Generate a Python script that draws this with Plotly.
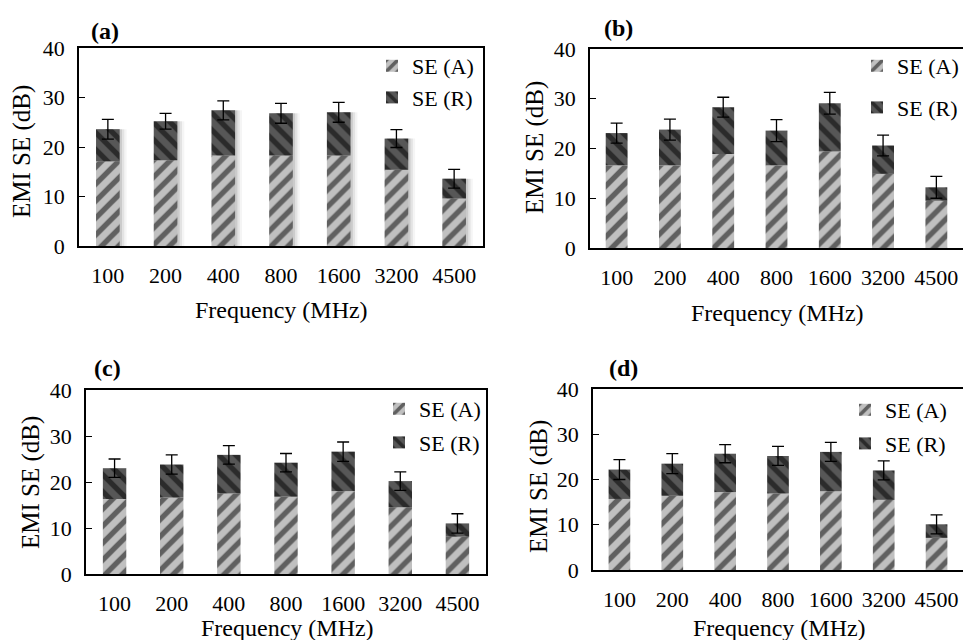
import plotly.graph_objects as go

freq = ["100", "200", "400", "800", "1600", "3200", "4500"]

# panel (a)
a_A = [17.1, 17.3, 18.3, 18.3, 18.3, 15.4, 9.6]
a_tot = [23.6, 25.2, 27.4, 26.8, 27.0, 21.7, 13.6]
a_err = [2.0, 1.6, 1.9, 2.0, 2.0, 1.8, 1.9]
# panel (b)
b_A = [16.6, 16.6, 18.9, 16.6, 19.4, 14.9, 9.5]
b_tot = [23.1, 23.8, 28.3, 23.6, 29.1, 20.6, 12.2]
b_err = [2.0, 2.1, 2.0, 2.2, 2.2, 2.1, 2.2]
# panel (c)
c_A = [16.3, 16.6, 17.5, 16.8, 18.0, 14.5, 8.1]
c_tot = [23.0, 23.8, 25.9, 24.2, 26.6, 20.2, 11.0]
c_err = [2.0, 2.1, 2.0, 2.0, 2.1, 2.0, 2.1]
# panel (d)
d_A = [15.7, 16.4, 17.2, 16.9, 17.4, 15.5, 7.1]
d_tot = [22.2, 23.5, 25.7, 25.2, 26.1, 22.0, 10.1]
d_err = [2.2, 2.2, 2.0, 2.1, 2.1, 2.1, 2.1]

panel_labels = ["(a)", "(b)", "(c)", "(d)"]
series_names = ["SE (A)", "SE (R)"]
x_title = "Frequency (MHz)"
y_title = "EMI SE (dB)"
y_ticks = [0, 10, 20, 30, 40]

W, H = 963, 640
FONT = "Liberation Serif, Times New Roman, serif"
LIGHT = "#c0c0c0"
DARK = "#575757"

# layout geometry (pixels): left, right, top, bottom
geom = [
    (79, 483, 48, 246),
    (590, 963, 49, 248),
    (86, 486, 390, 574),
    (593, 963, 389, 570),
]
legend_pos = [(372, 45), (857, 45), (379, 388), (845, 389)]
legend_gap = [0, 10, 2, 2]
label_pos = [(105, 31), (618, 28), (107, 368), (623, 368)]
xtitle_pos = [(281, 310), (777, 313), (287, 628), (779, 628)]
ytitle_pos = [(22, 152), (535, 148), (31, 483), (539, 487)]

panels = [(a_A, a_tot, a_err), (b_A, b_tot, b_err), (c_A, c_tot, c_err), (d_A, d_tot, d_err)]

fig = go.Figure()
BW = 0.41
for i, (A, tot, err) in enumerate(panels):
    sfx = "" if i == 0 else str(i + 1)
    xa, ya = "x" + sfx, "y" + sfx
    leg = "legend" + sfx
    R = [t - a for t, a in zip(tot, A)]
    if i == 0:
        # soft shadow to the right of bars in panel (a)
        for k, alpha in enumerate([0.10, 0.07, 0.04]):
            fig.add_trace(go.Bar(
                x=freq, y=tot, base=[0] * len(freq), xaxis=xa, yaxis=ya,
                width=BW, offset=-BW / 2 + 0.04 * (k + 1), legend=leg,
                marker=dict(color=f"rgba(0,0,0,{alpha})", line=dict(width=0)),
                showlegend=False, hoverinfo="skip"))
    fig.add_trace(go.Bar(
        x=freq, y=A, base=[0] * len(freq), name=series_names[0], xaxis=xa, yaxis=ya,
        width=BW, offset=-BW / 2, legend=leg, legendgroup=f"A{i}",
        marker=dict(color=LIGHT, line=dict(width=0),
                    pattern=dict(shape="/", fgcolor="black", bgcolor=LIGHT,
                                 size=12, solidity=0.45, fillmode="overlay"))))
    fig.add_trace(go.Bar(
        x=freq, y=R, base=A, name=series_names[1], xaxis=xa, yaxis=ya,
        width=BW, offset=-BW / 2, legend=leg, legendgroup=f"R{i}",
        marker=dict(color=DARK, line=dict(width=0),
                    pattern=dict(shape="\\", fgcolor="black", bgcolor=DARK,
                                 size=12, solidity=0.45, fillmode="overlay")),
        error_y=dict(type="data", array=err, visible=True, color="black",
                     thickness=1.3, width=6)))

layout = dict(
    template="none",
    width=W, height=H, margin=dict(l=0, r=0, t=0, b=0, autoexpand=False),
    paper_bgcolor="white", plot_bgcolor="white",
    barmode="overlay", showlegend=True,
    font=dict(family=FONT, color="black", size=20),
)
ann = []
for i, (l, r, t, b) in enumerate(geom):
    sfx = "" if i == 0 else str(i + 1)
    xd = [l / W, min(r / W, 1.0)]
    yd = [1 - b / H, 1 - t / H]
    layout["xaxis" + sfx] = dict(
        domain=xd, anchor="y" + sfx, type="category", showgrid=False,
        showline=True, mirror=True, linecolor="black", linewidth=1.5,
        ticks="", ticklabelstandoff=9, tickfont=dict(size=22, family=FONT),
        zeroline=False, fixedrange=True, automargin=False)
    layout["yaxis" + sfx] = dict(
        domain=yd, anchor="x" + sfx, range=[0, 40], tickvals=y_ticks,
        showgrid=False, zeroline=False, showline=True, mirror=True,
        linecolor="black", linewidth=1.5, ticks="inside", ticklen=6,
        tickwidth=1.2, tickcolor="black", ticklabelstandoff=8,
        tickfont=dict(size=22, family=FONT), fixedrange=True, automargin=False)
    lx, ly = legend_pos[i]
    layout["legend" + sfx] = dict(
        x=lx / W, y=1 - ly / H, xanchor="left", yanchor="top",
        bgcolor="rgba(0,0,0,0)", font=dict(size=22, family=FONT),
        traceorder="grouped", tracegroupgap=legend_gap[i], itemwidth=30)
    px, py = label_pos[i]
    ann.append(dict(text=f"<b>{panel_labels[i]}</b>", x=px / W, y=1 - py / H,
                    xref="paper", yref="paper", showarrow=False,
                    xanchor="center", yanchor="middle",
                    font=dict(size=24, family=FONT)))
    px, py = xtitle_pos[i]
    ann.append(dict(text=x_title, x=px / W, y=1 - py / H, xref="paper", yref="paper",
                    showarrow=False, xanchor="center", yanchor="middle",
                    font=dict(size=24, family=FONT)))
    px, py = ytitle_pos[i]
    ann.append(dict(text=y_title, x=px / W, y=1 - py / H, xref="paper", yref="paper",
                    showarrow=False, xanchor="center", yanchor="middle", textangle=-90,
                    font=dict(size=25, family=FONT)))
layout["annotations"] = ann
fig.update_layout(**layout)

fig.write_html("out.html", config={"displayModeBar": False})
